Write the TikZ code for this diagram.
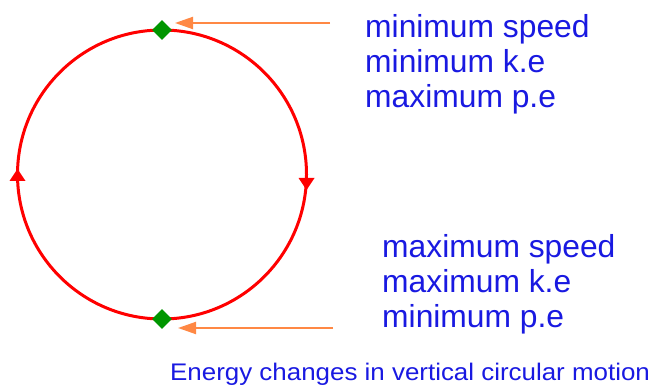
\documentclass[tikz,border=0pt]{standalone}
\usepackage{fontspec}
\setmainfont{Liberation Sans}
\usetikzlibrary{arrows.meta,shapes.geometric}
\definecolor{txtblue}{RGB}{25,25,225}
\definecolor{ptrorange}{RGB}{255,136,68}
\definecolor{dotgreen}{RGB}{0,150,0}
\definecolor{ringred}{RGB}{255,0,0}
\tikzset{
  ring/.style={draw=ringred,line width=3pt},
  dotmark/.style={diamond,fill=dotgreen,inner sep=0pt,minimum width=20pt,minimum height=20pt},
  pointer/.style={draw=ptrorange,line width=2pt,-{Triangle[length=18pt,width=12pt]}},
  label3/.style={anchor=base west,text=txtblue,align=left,inner sep=0pt,font=\fontsize{31.8}{35}\selectfont},
  caption/.style={anchor=base west,text=txtblue,inner sep=0pt,font=\fontsize{24}{28}\selectfont},
  dirtip/.style={fill=ringred}
}
\begin{document}
\begin{tikzpicture}[x=1pt,y=1pt]
\useasboundingbox (0,0) rectangle (663,385);
\coordinate (c) at (162,210.5);
\draw[ring] (c) circle[radius=144.5];
% direction arrowheads
\fill[dirtip] (17.5,216) -- (9.5,204) -- (25.5,204) -- cycle;
\fill[dirtip] (306.5,195) -- (298.5,207) -- (314.5,207) -- cycle;
% marker points
\node[dotmark] (top) at (162,355) {};
\node[dotmark] (bot) at (162,66) {};
% pointers
\coordinate (ptop) at (330,362);
\coordinate (pbot) at (333,57);
\draw[pointer] (ptop) -- (175,362);
\draw[pointer] (pbot) -- (178,57);
% labels (anchor at baseline of last line)
\node[label3] (ltop) at (365,277) {minimum speed\\minimum k.e\\maximum p.e};
\node[label3] (lbot) at (382,57) {maximum speed\\maximum k.e\\minimum p.e};
\node[caption] (cap) at (170,5) {\scalebox{1.08}[1]{Energy changes in vertical circular motion}};
\end{tikzpicture}
\end{document}
